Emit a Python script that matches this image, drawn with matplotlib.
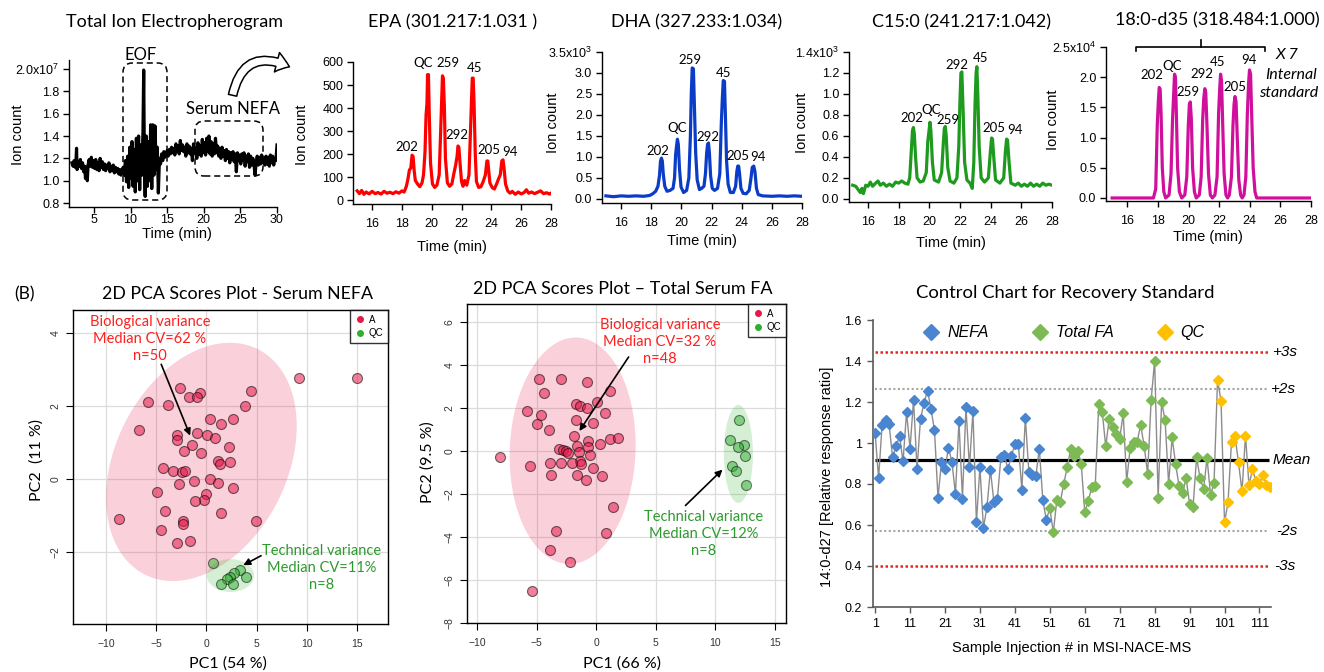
import numpy as np
import matplotlib
matplotlib.use("Agg")
import matplotlib.pyplot as plt
from matplotlib.lines import Line2D
from matplotlib.patches import FancyArrowPatch, FancyBboxPatch
from matplotlib.transforms import blended_transform_factory

plt.rcParams["font.family"] = ["Liberation Sans", "DejaVu Sans"]
plt.rcParams["mathtext.fontset"] = "custom"
plt.rcParams["mathtext.rm"] = "Liberation Sans"
plt.rcParams["mathtext.default"] = "regular"

W, H = 1324, 672
SERIF_ISH = ["Lato", "DejaVu Sans"]  # stands in for Calibri

# ---------------- top row: electropherograms (time, intensity) ----------------
tie_trace = [
    (2.0, 1.16), (2.15, 1.13), (2.3, 1.18), (2.45, 1.12), (2.55, 1.17), (2.63, 1.29),
    (2.7, 1.10), (2.85, 1.17), (3.0, 1.13), (3.15, 1.19), (3.3, 1.11), (3.45, 1.16),
    (3.6, 1.08), (3.75, 1.13), (3.85, 1.02), (4.0, 1.12), (4.1, 1.00), (4.2, 1.14),
    (4.35, 1.19), (4.5, 1.13), (4.65, 1.21), (4.8, 1.12), (4.95, 1.18), (5.1, 1.11),
    (5.25, 1.19), (5.4, 1.10), (5.55, 1.16), (5.7, 1.09), (5.85, 1.20), (6.0, 1.12),
    (6.15, 1.17), (6.3, 1.10), (6.45, 1.15), (6.6, 1.09), (6.75, 1.14), (6.9, 1.11),
    (7.05, 1.16), (7.2, 1.08), (7.35, 1.13), (7.5, 1.09), (7.65, 1.14), (7.8, 1.07),
    (7.95, 1.12), (8.1, 1.08), (8.25, 1.11), (8.4, 1.06), (8.55, 1.10), (8.7, 1.05),
    (8.85, 1.09), (9.0, 1.12), (9.15, 1.05), (9.3, 1.18), (9.45, 0.99), (9.6, 1.22),
    (9.75, 0.94), (9.9, 1.30), (10.05, 1.02), (10.2, 1.35), (10.35, 0.95), (10.5, 1.28),
    (10.65, 0.90), (10.8, 1.38), (10.95, 1.00), (11.1, 1.40), (11.25, 0.92), (11.4, 1.32),
    (11.55, 1.05), (11.7, 1.45), (11.8, 1.99), (11.9, 1.10), (12.0, 0.86), (12.15, 1.40),
    (12.3, 0.95), (12.45, 1.35), (12.6, 1.00), (12.75, 1.50), (12.9, 0.93), (13.05, 1.50),
    (13.2, 1.05), (13.35, 1.49), (13.5, 1.10), (13.65, 1.30), (13.8, 0.89), (13.95, 1.20),
    (14.1, 1.15), (14.25, 1.24), (14.4, 1.18), (14.55, 1.26), (14.7, 1.21), (14.85, 1.23),
    (15.0, 1.27), (15.15, 1.22), (15.3, 1.28), (15.45, 1.24), (15.6, 1.30), (15.75, 1.25),
    (15.9, 1.29), (16.05, 1.23), (16.2, 1.33), (16.35, 1.26), (16.5, 1.31), (16.65, 1.24),
    (16.8, 1.36), (16.95, 1.27), (17.1, 1.32), (17.25, 1.26), (17.4, 1.30), (17.55, 1.22),
    (17.7, 1.33), (17.85, 1.25), (18.0, 1.31), (18.15, 1.24), (18.3, 1.29), (18.45, 1.18),
    (18.6, 1.33), (18.75, 1.25), (18.9, 1.30), (19.05, 1.20), (19.2, 1.34), (19.35, 1.24),
    (19.5, 1.31), (19.65, 1.22), (19.8, 1.37), (19.95, 1.25), (20.1, 1.34), (20.25, 1.23),
    (20.4, 1.38), (20.55, 1.26), (20.7, 1.40), (20.85, 1.24), (21.0, 1.35), (21.15, 1.22),
    (21.3, 1.33), (21.45, 1.24), (21.6, 1.38), (21.75, 1.25), (21.9, 1.31), (22.05, 1.22),
    (22.2, 1.29), (22.35, 1.20), (22.5, 1.30), (22.65, 1.22), (22.8, 1.27), (22.95, 1.18),
    (23.1, 1.28), (23.25, 1.20), (23.4, 1.26), (23.55, 1.16), (23.7, 1.25), (23.85, 1.19),
    (24.0, 1.26), (24.15, 1.17), (24.3, 1.24), (24.45, 1.08), (24.6, 1.25), (24.75, 1.18),
    (24.9, 1.23), (25.05, 1.15), (25.2, 1.24), (25.35, 1.18), (25.5, 1.25), (25.65, 1.13),
    (25.8, 1.22), (25.95, 1.17), (26.1, 1.24), (26.25, 1.12), (26.4, 1.22), (26.55, 1.14),
    (26.7, 1.20), (26.85, 1.15), (27.0, 1.05), (27.15, 1.16), (27.3, 1.22), (27.45, 1.14),
    (27.6, 1.21), (27.75, 1.15), (27.9, 1.23), (28.05, 1.16), (28.2, 1.20), (28.35, 1.14),
    (28.5, 1.22), (28.65, 1.15), (28.8, 1.21), (28.95, 1.13), (29.1, 1.23), (29.25, 1.16),
    (29.4, 1.22), (29.55, 1.14), (29.7, 1.20), (29.85, 1.18), (30.0, 1.32),
]

epa_trace = [
    (15.0, 40), (15.15, 28), (15.3, 42), (15.45, 25), (15.6, 35), (15.8, 27), (16.0, 38),
    (16.2, 28), (16.4, 33), (16.6, 26), (16.8, 38), (17.0, 30), (17.2, 34), (17.4, 28),
    (17.6, 36), (17.8, 30), (18.0, 40), (18.15, 35), (18.3, 60), (18.4, 90), (18.5, 130),
    (18.6, 140), (18.68, 195), (18.75, 190), (18.82, 130), (18.9, 85), (19.05, 70),
    (19.2, 58), (19.35, 75), (19.45, 110), (19.55, 210), (19.62, 370), (19.68, 420),
    (19.72, 545), (19.78, 545), (19.84, 360), (19.92, 160), (20.05, 70), (20.2, 55),
    (20.35, 65), (20.5, 110), (20.6, 300), (20.66, 420), (20.72, 540), (20.78, 530),
    (20.85, 400), (20.92, 180), (21.05, 75), (21.2, 60), (21.35, 70), (21.5, 120),
    (21.6, 150), (21.7, 190), (21.76, 235), (21.82, 230), (21.9, 160), (22.0, 80),
    (22.1, 60), (22.2, 85), (22.35, 65), (22.5, 110), (22.6, 300), (22.66, 420),
    (22.72, 530), (22.78, 530), (22.84, 420), (22.92, 200), (23.0, 80), (23.15, 55),
    (23.3, 58), (23.45, 80), (23.6, 110), (23.7, 170), (23.76, 170), (23.82, 130),
    (23.9, 75), (24.05, 55), (24.2, 48), (24.35, 70), (24.5, 95), (24.6, 110),
    (24.7, 170), (24.78, 175), (24.85, 140), (24.95, 70), (25.1, 40), (25.25, 30),
    (25.4, 38), (25.6, 25), (25.8, 35), (26.0, 27), (26.2, 33), (26.35, 45), (26.5, 30),
    (26.7, 35), (26.9, 28), (27.1, 34), (27.3, 40), (27.5, 28), (27.7, 32), (27.9, 26),
    (28.0, 30),
]

dha_trace = [  # x10^3
    (15.0, 0.07), (15.5, 0.05), (16.0, 0.07), (16.5, 0.06), (17.0, 0.07), (17.5, 0.06),
    (17.9, 0.08), (18.1, 0.12), (18.3, 0.18), (18.45, 0.30), (18.55, 0.55), (18.62, 0.9),
    (18.68, 0.97), (18.74, 0.9), (18.8, 0.6), (18.9, 0.3), (19.05, 0.18), (19.25, 0.2),
    (19.45, 0.25), (19.55, 0.5), (19.62, 1.05), (19.68, 1.25), (19.74, 1.42), (19.8, 1.3),
    (19.88, 0.7), (19.98, 0.28), (20.15, 0.15), (20.35, 0.2), (20.5, 0.5), (20.6, 1.5),
    (20.66, 2.5), (20.72, 3.12), (20.8, 3.1), (20.86, 2.3), (20.95, 1.1), (21.05, 0.45),
    (21.2, 0.22), (21.35, 0.25), (21.5, 0.3), (21.6, 0.6), (21.68, 1.1), (21.74, 1.3),
    (21.8, 1.33), (21.86, 1.1), (21.94, 0.55), (22.05, 0.25), (22.2, 0.2), (22.4, 0.25),
    (22.55, 0.6), (22.65, 1.8), (22.72, 2.4), (22.78, 2.82), (22.86, 2.8), (22.92, 2.0),
    (23.0, 0.9), (23.1, 0.35), (23.25, 0.15), (23.45, 0.15), (23.6, 0.3), (23.68, 0.65),
    (23.74, 0.78), (23.8, 0.78), (23.86, 0.6), (23.95, 0.25), (24.1, 0.13), (24.3, 0.12),
    (24.5, 0.2), (24.62, 0.5), (24.7, 0.75), (24.8, 0.78), (24.88, 0.65), (24.98, 0.25),
    (25.1, 0.1), (25.4, 0.07), (26.0, 0.06), (26.5, 0.07), (27.0, 0.06), (27.5, 0.07),
    (28.0, 0.06),
]

c15_trace = [  # x10^3
    (15.0, 0.13), (15.2, 0.12), (15.35, 0.09), (15.5, 0.06), (15.6, 0.10), (15.7, 0.05),
    (15.85, 0.13), (16.0, 0.12), (16.15, 0.16), (16.3, 0.12), (16.5, 0.15), (16.65, 0.17),
    (16.8, 0.13), (17.0, 0.15), (17.2, 0.12), (17.4, 0.14), (17.6, 0.12), (17.8, 0.16),
    (18.0, 0.15), (18.2, 0.17), (18.4, 0.15), (18.6, 0.14), (18.72, 0.2), (18.82, 0.45),
    (18.9, 0.65), (18.96, 0.68), (19.02, 0.62), (19.1, 0.4), (19.2, 0.2), (19.4, 0.16),
    (19.6, 0.17), (19.8, 0.25), (19.9, 0.55), (19.98, 0.65), (20.04, 0.73), (20.1, 0.65),
    (20.2, 0.35), (20.32, 0.18), (20.6, 0.16), (20.8, 0.25), (20.92, 0.55), (20.98, 0.67),
    (21.04, 0.69), (21.1, 0.6), (21.2, 0.3), (21.35, 0.17), (21.6, 0.15), (21.8, 0.2),
    (21.92, 0.5), (22.0, 0.95), (22.06, 1.2), (22.12, 1.21), (22.2, 0.85), (22.3, 0.35),
    (22.45, 0.18), (22.65, 0.15), (22.8, 0.10), (22.9, 0.35), (22.98, 0.9), (23.05, 1.2),
    (23.1, 1.26), (23.16, 1.0), (23.25, 0.5), (23.38, 0.2), (23.6, 0.16), (23.85, 0.2),
    (23.98, 0.45), (24.06, 0.58), (24.12, 0.57), (24.2, 0.4), (24.32, 0.18), (24.6, 0.15),
    (24.85, 0.2), (24.96, 0.45), (25.04, 0.57), (25.1, 0.56), (25.2, 0.35), (25.32, 0.15),
    (25.6, 0.13), (25.8, 0.15), (26.0, 0.12), (26.2, 0.14), (26.4, 0.12), (26.6, 0.15),
    (26.8, 0.12), (27.0, 0.14), (27.2, 0.12), (27.4, 0.15), (27.6, 0.13), (27.8, 0.14),
    (28.0, 0.13),
]

d35_trace = [  # x10^4
    (15.0, 0.0), (17.7, 0.0), (17.85, 0.15), (17.95, 1.2), (18.02, 1.6), (18.08, 1.83),
    (18.14, 1.8), (18.2, 1.4), (18.28, 0.5), (18.38, 0.1), (18.5, 0.0), (18.72, 0.05),
    (18.85, 0.4), (18.95, 1.3), (19.02, 1.7), (19.08, 2.05), (19.14, 2.0), (19.2, 1.4),
    (19.28, 0.5), (19.4, 0.1), (19.55, 0.0), (19.75, 0.05), (19.88, 0.35), (19.98, 1.2),
    (20.05, 1.55), (20.11, 1.59), (20.18, 1.3), (20.26, 0.5), (20.38, 0.1), (20.5, 0.0),
    (20.7, 0.05), (20.82, 0.35), (20.92, 1.3), (20.99, 1.65), (21.06, 1.81), (21.12, 1.75),
    (21.2, 1.2), (21.3, 0.4), (21.42, 0.05), (21.55, 0.0), (21.72, 0.05), (21.86, 0.35),
    (21.96, 1.4), (22.03, 1.8), (22.09, 2.05), (22.15, 1.95), (22.22, 1.3), (22.32, 0.4),
    (22.44, 0.05), (22.55, 0.0), (22.66, 0.05), (22.8, 0.35), (22.9, 1.2), (22.97, 1.55),
    (23.03, 1.68), (23.1, 1.6), (23.18, 1.0), (23.28, 0.3), (23.4, 0.05), (23.5, 0.0),
    (23.62, 0.05), (23.74, 0.35), (23.84, 1.4), (23.92, 1.9), (23.98, 2.12), (24.05, 2.05),
    (24.12, 1.4), (24.22, 0.5), (24.34, 0.1), (24.45, 0.0), (28.0, 0.0),
]

peak_ids = ["202", "QC", "259", "292", "45", "205", "94"]
epa_label_pos = [(18.35, 232), (19.43, 597), (21.07, 597), (21.67, 283), (22.9, 575), (23.85, 218), (25.26, 211)]
dha_label_pos = [(18.43, 1.13), (19.73, 1.68), (20.57, 3.32), (21.78, 1.47), (22.82, 3.0), (23.78, 1.01), (25.08, 0.99)]
c15_label_pos = [(18.84, 0.77), (20.10, 0.85), (21.24, 0.75), (21.83, 1.28), (23.31, 1.34), (24.23, 0.68), (25.56, 0.66)]
d35_label_pos = [(17.63, 2.03), (18.89, 2.18), (19.96, 1.76), (20.85, 2.05), (21.87, 2.25), (23.0, 1.83), (23.93, 2.28)]

# ---------------- bottom row: PCA scores ----------------
nefa_a_pc1 = [9.18, 15.0, -2.62, -0.62, -1.69, -0.89, 4.43, -5.84, -3.85, 3.86, 0.31, 2.63,
              1.44, -6.71, -2.95, -2.95, -0.92, 0.07, 0.87, -1.42, -2.19, -0.56, 2.27, 1.2,
              1.34, 2.37, -4.28, -3.32, -2.45, -2.09, -2.69, -1.22, 0.31, 1.2, -4.88, -0.03,
              -0.29, -1.09, 2.67, -4.15, 1.47, -8.67, -2.35, -2.35, 4.99, -4.55, -2.92, -1.66]
nefa_a_pc2 = [2.76, 2.76, 2.49, 2.35, 2.24, 2.24, 2.43, 2.11, 2.02, 2.0, 1.65, 1.66,
              1.52, 1.34, 1.2, 1.06, 1.26, 1.22, 1.12, 0.93, 0.78, 0.72, 0.87, 0.49,
              0.41, 0.47, 0.29, 0.23, 0.18, 0.21, -0.14, -0.06, -0.01, -0.1, -0.37, -0.41,
              -0.57, -0.59, -0.24, -0.89, -0.94, -1.09, -1.16, -1.24, -1.16, -1.39, -1.75, -1.69]
nefa_qc_pc1 = [0.64, 3.36, 2.7, 2.37, 2.03, 1.47, 2.67, 3.96]
nefa_qc_pc2 = [-2.31, -2.5, -2.59, -2.68, -2.75, -2.88, -2.88, -2.7]

total_a_pc1 = [-4.77, -2.98, -0.74, 1.21, -4.38, 0.04, -1.67, -1.39, -0.77, -5.83, -4.66, 0.74,
               -1.67, -4.97, -0.30, -3.96, -1.83, -0.72, 1.13, 1.86, 0.35, -1.58, -0.69, -3.12,
               -2.81, -2.53, -2.37, -1.44, -0.55, -1.33, -1.25, -5.58, -3.85, -2.95, -2.06, -0.30,
               -8.04, -3.76, -1.61, -0.83, 0.49, 1.41, -3.37, 0.82, -3.85, -2.17, -5.36]
total_a_pc2 = [3.37, 3.37, 3.23, 2.81, 2.72, 2.27, 2.17, 2.10, 2.02, 1.88, 1.66, 1.75,
               1.44, 1.26, 1.29, 0.96, 0.70, 0.48, 0.57, 0.59, 0.31, 0.23, 0.18, 0.09,
               0.04, 0.01, -0.08, -0.04, -0.19, -0.46, -0.61, -0.69, -0.55, -0.55, -0.55, -0.78,
               -0.30, -1.12, -1.12, -1.36, -1.19, -2.62, -3.72, -3.81, -4.59, -5.17, -6.52]
total_qc_pc1 = [11.98, 11.22, 12.46, 11.92, 12.54, 11.39, 11.76, 12.57]
total_qc_pc2 = [1.44, 0.51, 0.28, 0.18, -0.22, -0.69, -0.94, -1.57]

# ellipses: centre, half-extent along PC1 / PC2, correlation
nefa_a_ellipse = (-0.5, 0.47, 9.5, 3.27, 0.30)
nefa_qc_ellipse = (2.4, -2.65, 2.35, 0.45, 0.0)
total_a_ellipse = (-1.97, 0.01, 5.29, 5.27, 0.05)
total_qc_ellipse = (11.95, -0.14, 1.22, 2.28, 0.0)

# ---------------- control chart: 14:0-d27 ratio per injection ----------------
nefa_ratio = [1.051, 0.829, 1.088, 1.113, 1.091, 0.931, 0.986, 1.032, 0.910, 1.150,
              0.973, 1.210, 0.872, 1.119, 1.194, 1.256, 1.165, 1.061, 0.734, 0.905,
              0.872, 0.978, 0.905, 0.751, 1.108, 0.729, 1.174, 0.882, 1.155, 0.613,
              0.882, 0.585, 0.687, 0.869, 0.712, 0.729, 0.931, 0.941, 0.872, 0.937,
              0.993, 0.993, 0.772, 1.124, 0.859, 0.846, 0.837, 0.973, 0.720, 0.625]
total_fa_ratio = [0.682, 0.564, 0.720, 0.713, 0.801, 0.884, 0.973, 0.937, 0.963, 0.898,
                  0.661, 0.718, 0.783, 0.788, 1.189, 1.153, 0.983, 1.119, 1.077, 1.045,
                  1.020, 1.144, 0.812, 0.978, 1.007, 1.007, 1.088, 0.986, 0.850, 1.210,
                  1.402, 0.733, 1.200, 1.110, 0.801, 1.027, 0.898, 0.788, 0.755, 0.829,
                  0.703, 0.690, 0.931, 0.829, 0.777, 0.926, 0.747, 0.807]
qc_ratio = [1.308, 1.205, 0.613, 0.710, 1.007, 1.032, 0.906, 0.764, 1.036, 0.793,
            0.871, 0.816, 0.801, 0.845, 0.796, 0.783]
limit_names = ["+3s", "+2s", "Mean", "-2s", "-3s"]
limit_values = [1.442, 1.265, 0.918, 0.569, 0.398]

RED_TXT = "#FF1F1F"
GREEN_TXT = "#2E9A2E"
A_COLOR = "#E8174A"
QC_COLOR = "#2DB02D"

fig = plt.figure(figsize=(W / 100, H / 100), dpi=100)


def px_box(left, top, right, bottom):
    return [left / W, 1 - bottom / H, (right - left) / W, (bottom - top) / H]


def fig_text(x, y, s, **kw):
    kw.setdefault("ha", "center")
    kw.setdefault("va", "center")
    return fig.text(x / W, 1 - y / H, s, **kw)


def chromatogram(box, trace, color, xlim, ylim, xticks, yticks, ylabels, xpad=6):
    ax = fig.add_axes(px_box(*box))
    t, v = zip(*trace)
    ax.plot(t, v, color=color, lw=2.3, solid_joinstyle="round")
    ax.set_xlim(*xlim)
    ax.set_ylim(*ylim)
    ax.set_xticks(xticks)
    ax.set_yticks(yticks)
    ax.set_yticklabels(ylabels)
    for side in ("top", "right"):
        ax.spines[side].set_visible(False)
    for side in ("left", "bottom"):
        ax.spines[side].set_linewidth(1.0)
    ax.tick_params(direction="out", length=4, width=1, labelsize=9, pad=3)
    ax.tick_params(axis="x", pad=xpad)
    return ax


def label_peaks(ax, positions):
    for name, (t, y) in zip(peak_ids, positions):
        ax.text(t, y, name, ha="center", va="center", fontsize=9.5, family=SERIF_ISH)


# ---- Total ion electropherogram
ax1 = chromatogram((69, 60, 277, 207), tie_trace, "black", (1.6, 30), (0.765, 2.08),
                   [5, 10, 15, 20, 25, 30], [0.8, 1.0, 1.2, 1.4, 1.6, 1.8, 2.0],
                   ["0.8", "1.0", "1.2", "1.4", "1.6", "1.8", r"2.0x10$^{7}$"], xpad=1)
fig_text(175, 22, "Total Ion Electropherogram", fontsize=13, family=SERIF_ISH)
fig_text(18, 135, "Ion count", rotation=90, fontsize=10.5)
fig_text(177, 234, "Time (min)", fontsize=10.5)
fig_text(141, 55, "EOF", fontsize=12, family=SERIF_ISH)
fig_text(233, 109, "Serum NEFA", fontsize=12, family=SERIF_ISH)


def dashed_box(left, top, right, bottom):
    patch = FancyBboxPatch((left / W, 1 - bottom / H), (right - left) / W, (bottom - top) / H,
                           boxstyle="round,pad=0,rounding_size=0.007", mutation_aspect=W / H,
                           transform=fig.transFigure, fill=False, ec="black", lw=1.1,
                           ls=(0, (4, 2.5)))
    fig.add_artist(patch)


dashed_box(123, 63, 167, 200)
dashed_box(195, 121, 263, 176)
fig.add_artist(FancyArrowPatch((232 / W, 1 - 98 / H), (292 / W, 1 - 68 / H),
                               transform=fig.transFigure, connectionstyle="arc3,rad=-0.65",
                               arrowstyle="simple,head_length=0.6,head_width=0.9,tail_width=0.38",
                               mutation_scale=16, fc="white", ec="black", lw=1.1))

# ---- EPA
ax2 = chromatogram((353, 62, 551, 204), epa_trace, "#FF0000", (14.72, 28), (-17, 600),
                   range(16, 29, 2), range(0, 601, 100), [str(v) for v in range(0, 601, 100)])
label_peaks(ax2, epa_label_pos)
fig_text(453, 22, "EPA (301.217:1.031 )", fontsize=13, family=SERIF_ISH)
fig_text(302, 135, "Ion count", rotation=90, fontsize=10.5)
fig_text(452, 247, "Time (min)", fontsize=10.5)

# ---- DHA
dha_ticks = [0.0, 0.5, 1.0, 1.5, 2.0, 2.5, 3.0, 3.5]
ax3 = chromatogram((602, 52, 802, 203), dha_trace, "#0A3CC8", (14.74, 28), (-0.1, 3.5),
                   range(16, 29, 2), dha_ticks,
                   [f"{v:.1f}" for v in dha_ticks[:-1]] + [r"3.5x10$^{3}$"])
label_peaks(ax3, dha_label_pos)
fig_text(697, 22, "DHA (327.233:1.034)", fontsize=13, family=SERIF_ISH)
fig_text(553, 123, "Ion count", rotation=90, fontsize=10.5)
fig_text(702, 241, "Time (min)", fontsize=10.5)

# ---- C15:0
c15_ticks = [0.0, 0.2, 0.4, 0.6, 0.8, 1.0, 1.2, 1.4]
ax4 = chromatogram((849, 52, 1052, 202), c15_trace, "#1E9A1E", (14.76, 28), (-0.03, 1.4),
                   range(16, 29, 2), c15_ticks,
                   [f"{v:.1f}" for v in c15_ticks[:-1]] + [r"1.4x10$^{3}$"])
label_peaks(ax4, c15_label_pos)
fig_text(962, 22, "C15:0 (241.217:1.042)", fontsize=13, family=SERIF_ISH)
fig_text(802, 123, "Ion count", rotation=90, fontsize=10.5)
fig_text(951, 243, "Time (min)", fontsize=10.5)

# ---- 18:0-d35 internal standard
d35_ticks = [0.0, 0.5, 1.0, 1.5, 2.0, 2.5]
ax5 = chromatogram((1106, 47, 1311, 201), d35_trace, "#D0109C", (14.6, 28), (-0.05, 2.5),
                   range(16, 29, 2), d35_ticks,
                   [f"{v:.1f}" for v in d35_ticks[:-1]] + [r"2.5x10$^{4}$"])
label_peaks(ax5, d35_label_pos)
ax5.plot([16.54, 16.54, 25.02, 25.02], [2.44, 2.5, 2.5, 2.44], color="black", lw=1.2, clip_on=False)
ax5.plot([20.78, 20.78], [2.5, 2.61], color="black", lw=1.2, clip_on=False)
fig_text(1217, 20, "18:0-d35 (318.484:1.000)", fontsize=13, family=SERIF_ISH)
fig_text(1053, 120, "Ion count", rotation=90, fontsize=10.5)
fig_text(1208, 237, "Time (min)", fontsize=10.5)
fig_text(1287, 55, "X 7", fontsize=11.5, style="italic", family=SERIF_ISH)
fig_text(1291, 75, "Internal", fontsize=11.5, style="italic", family=SERIF_ISH)
fig_text(1289, 93, "standard", fontsize=11.5, style="italic", family=SERIF_ISH)


# ---------------- PCA panels ----------------
def ellipse_outline(params):
    cx, cy, rx, ry, rho = params
    t = np.linspace(0, 2 * np.pi, 240)
    phi = np.arccos(rho)
    return cx + rx * np.cos(t), cy + ry * np.cos(t - phi)


def pca_panel(box, a_x, a_y, qc_x, qc_y, a_ell, qc_ell, xlim, ylim, yticks):
    ax = fig.add_axes(px_box(*box))
    for params, col in ((a_ell, A_COLOR), (qc_ell, QC_COLOR)):
        ex, ey = ellipse_outline(params)
        ax.fill(ex, ey, color=col, alpha=0.2, lw=0, zorder=1)
    ax.scatter(a_x, a_y, s=52, c=A_COLOR, alpha=0.55, edgecolors="black", linewidths=0.8, zorder=3)
    ax.scatter(qc_x, qc_y, s=52, c=QC_COLOR, alpha=0.5, edgecolors="black", linewidths=0.8, zorder=3)
    ax.set_xlim(*xlim)
    ax.set_ylim(*ylim)
    ax.set_xticks([-10, -5, 0, 5, 10, 15])
    ax.set_yticks(yticks)
    ax.grid(color="#DCDCDC", lw=0.9)
    ax.set_axisbelow(True)
    ax.tick_params(direction="out", length=5, width=0.8, labelsize=7.5, labelcolor="#333333")
    ax.tick_params(axis="x", pad=6)
    ax.tick_params(axis="y", labelrotation=90, pad=4)
    for lbl in ax.get_yticklabels():
        lbl.set_va("center")
    for sp in ax.spines.values():
        sp.set_linewidth(1.0)
    handles = [Line2D([], [], marker="o", ls="none", ms=4, color=A_COLOR, label="A"),
               Line2D([], [], marker="o", ls="none", ms=4, color=QC_COLOR, label="QC")]
    leg = ax.legend(handles=handles, loc="upper right", fontsize=7, frameon=True, fancybox=False,
                    edgecolor="black", borderaxespad=0, handlelength=1, handletextpad=0.4,
                    borderpad=0.5, labelspacing=0.35)
    leg.get_frame().set_linewidth(1.0)
    return ax


axb1 = pca_panel((73, 310, 388, 624), nefa_a_pc1, nefa_a_pc2, nefa_qc_pc1, nefa_qc_pc2,
                 nefa_a_ellipse, nefa_qc_ellipse, (-13.3, 18.1), (-3.98, 4.64), [-2, 0, 2, 4])
axb1.annotate("", xy=(-1.52, 1.12), xytext=(-4.61, 3.22),
              arrowprops=dict(arrowstyle="-|>", color="black", lw=1.2, mutation_scale=10))
axb1.annotate("", xy=(3.43, -2.4), xytext=(5.69, -2.07),
              arrowprops=dict(arrowstyle="-|>", color="black", lw=1.2, mutation_scale=10))
fig_text(150, 339, "Biological variance\nMedian CV=62 %\nn=50", color=RED_TXT, fontsize=10.5,
         family=SERIF_ISH, linespacing=1.3)
fig_text(322, 568, "Technical variance\nMedian CV=11%\nn=8", color=GREEN_TXT, fontsize=10.5,
         family=SERIF_ISH, linespacing=1.3)
fig_text(24, 294, "(B)", fontsize=12.5, family=SERIF_ISH)
fig_text(237, 294, "2D PCA Scores Plot - Serum NEFA", fontsize=12.8, family=SERIF_ISH)
fig_text(228, 664, "PC1 (54 %)", fontsize=11.5, family=SERIF_ISH)
fig_text(37, 460, "PC2  (11 %)", rotation=90, fontsize=11.5, family=SERIF_ISH)

axb2 = pca_panel((467, 304, 786, 623), total_a_pc1, total_a_pc2, total_qc_pc1, total_qc_pc2,
                 total_a_ellipse, total_qc_ellipse, (-10.84, 15.95), (-8.01, 6.84),
                 [-8, -6, -4, -2, 0, 2, 4, 6])
axb2.annotate("", xy=(-1.53, 0.82), xytext=(2.86, 4.48),
              arrowprops=dict(arrowstyle="-|>", color="black", lw=1.2, mutation_scale=10))
axb2.annotate("", xy=(10.78, -0.78), xytext=(7.34, -2.63),
              arrowprops=dict(arrowstyle="-|>", color="black", lw=1.2, mutation_scale=10))
fig_text(660, 342, "Biological variance\nMedian CV=32 %\nn=48", color=RED_TXT, fontsize=10.5,
         family=SERIF_ISH, linespacing=1.3)
fig_text(704, 534, "Technical variance\nMedian CV=12%\nn=8", color=GREEN_TXT, fontsize=10.5,
         family=SERIF_ISH, linespacing=1.3)
fig_text(623, 289, "2D PCA Scores Plot \u2013 Total Serum FA", fontsize=13, family=SERIF_ISH)
fig_text(622, 664, "PC1 (66 %)", fontsize=11.5, family=SERIF_ISH)
fig_text(428, 462, "PC2 (9.5 %)", rotation=90, fontsize=11.5, family=SERIF_ISH)

# ---------------- control chart ----------------
axc = fig.add_axes(px_box(873, 320, 1271, 607))
ratio_all = nefa_ratio + total_fa_ratio + qc_ratio
injection = np.arange(1, len(ratio_all) + 1)
n1, n2 = len(nefa_ratio), len(nefa_ratio) + len(total_fa_ratio)
axc.plot(injection, ratio_all, color="#8C8C8C", lw=1.0, zorder=2)
groups = [("NEFA", "#4A86D0", 0, n1), ("Total FA", "#7DB954", n1, n2), ("QC", "#FFC000", n2, len(ratio_all))]
handles = []
for name, col, i0, i1 in groups:
    axc.plot(injection[i0:i1], ratio_all[i0:i1], ls="none", marker="D", ms=4.8, color=col, zorder=3)
    handles.append(Line2D([], [], ls="none", marker="D", ms=8, color=col, label=name))
limit_styles = [("#E8251F", (0, (1, 1)), 1.8), ("#A6A6A6", (0, (1, 1.2)), 1.5),
                ("black", "-", 2.3), ("#A6A6A6", (0, (1, 1.2)), 1.5), ("#E8251F", (0, (1, 1)), 1.8)]
trans = blended_transform_factory(axc.transAxes, axc.transData)
label_x = [1.003, 0.998, 1.005, 1.012, 1.008]
for name, val, (col, ls, lw), lx in zip(limit_names, limit_values, limit_styles, label_x):
    axc.hlines(val, 1, 113.6, colors=col, linestyles=ls, lw=lw, zorder=1)
    axc.text(lx, val, name, transform=trans, ha="left", va="center", fontsize=11,
             style="italic", clip_on=False)
axc.set_xlim(0.4, 114.3)
axc.set_ylim(0.2, 1.6)
axc.set_xticks(np.arange(1, 112, 10))
yt = [0.2, 0.4, 0.6, 0.8, 1.0, 1.2, 1.4, 1.6]
axc.set_yticks(yt)
axc.set_yticklabels(["0.2", "0.4", "0.6", "0.8", "1", "1.2", "1.4", "1.6"])
for side in ("top", "right"):
    axc.spines[side].set_visible(False)
for side in ("left", "bottom"):
    axc.spines[side].set_color("#5A5A5A")
    axc.spines[side].set_linewidth(1.2)
axc.tick_params(direction="out", length=4, width=1, color="#5A5A5A", labelsize=9, pad=4)
axc.legend(handles=handles, loc="center", bbox_to_anchor=(0.48, 0.955), ncol=3, frameon=False,
           prop={"style": "italic", "size": 11.5}, handlelength=1.0, handletextpad=0.5,
           columnspacing=2.7)
fig_text(1065, 293, "Control Chart for Recovery Standard", fontsize=13.3, family=SERIF_ISH)
fig_text(1072, 648, "Sample Injection # in MSI-NACE-MS", fontsize=10.5)
fig_text(827, 477, "14:0-d27 [Relative response ratio]", rotation=90, fontsize=10.5)

fig.savefig("out.png", dpi=100)
